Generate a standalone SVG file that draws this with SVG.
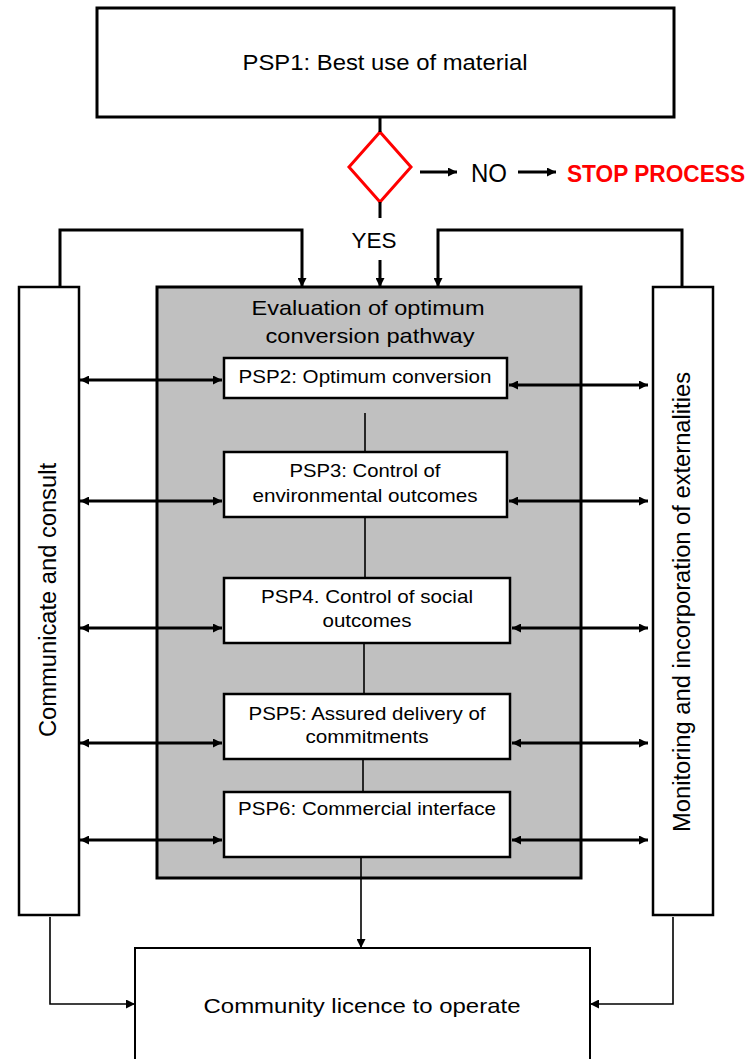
<svg xmlns="http://www.w3.org/2000/svg" width="755" height="1059" viewBox="0 0 755 1059">
<style>
text{font-family:"Liberation Sans",Arial,sans-serif;fill:#000}
.box{fill:#fff;stroke:#000;stroke-width:2.5}
.psp{font-size:19px}
.line{stroke:#000;stroke-width:3;fill:none}
.thin{stroke:#000;stroke-width:1.6;fill:none}
.side{font-size:23px}
</style>
<defs>
<marker id="ah" viewBox="0 0 10 10" refX="10" refY="5" markerWidth="9" markerHeight="9" markerUnits="userSpaceOnUse" orient="auto-start-reverse">
<path d="M0,0 L10,5 L0,10 z" fill="#000"/>
</marker>
</defs>
<rect width="755" height="1059" fill="#fff"/>

<g id="psp1">
<rect x="97" y="8" width="577" height="109" fill="#fff" stroke="#000" stroke-width="3"/>
<text x="385" y="70" font-size="22" text-anchor="middle" textLength="285" lengthAdjust="spacingAndGlyphs">PSP1: Best use of material</text>
</g>

<g id="decision">
<polygon points="380,132 411,167 380,202 349,167" fill="#fff" stroke="#ff0000" stroke-width="3"/>
</g>
<g id="no-label"><text x="489" y="182" font-size="25" text-anchor="middle" textLength="36" lengthAdjust="spacingAndGlyphs">NO</text></g>
<g id="stop"><text x="656" y="182" font-size="24" font-weight="bold" style="fill:#ff0000" text-anchor="middle" textLength="178" lengthAdjust="spacingAndGlyphs">STOP PROCESS</text></g>
<g id="yes-label"><text x="374" y="248" font-size="22" text-anchor="middle" textLength="45" lengthAdjust="spacingAndGlyphs">YES</text></g>

<g id="left-box">
<rect x="19" y="287" width="60" height="628" class="box"/>
<text class="side" transform="translate(56,600) rotate(-90)" text-anchor="middle" textLength="274" lengthAdjust="spacingAndGlyphs">Communicate and consult</text>
</g>
<g id="right-box">
<rect x="653" y="287" width="60" height="628" class="box"/>
<text class="side" transform="translate(690,602) rotate(-90)" text-anchor="middle" textLength="460" lengthAdjust="spacingAndGlyphs">Monitoring and incorporation of externalities</text>
</g>

<g id="evaluation">
<rect x="157" y="287" width="424" height="591" fill="#c0c0c0" stroke="#000" stroke-width="3"/>
<text x="368" y="315" font-size="21" text-anchor="middle" textLength="233" lengthAdjust="spacingAndGlyphs">Evaluation of optimum</text>
<text x="370" y="343" font-size="21" text-anchor="middle" textLength="209" lengthAdjust="spacingAndGlyphs">conversion pathway</text>
</g>

<g id="connectors">
<line x1="380" y1="117" x2="380" y2="132" class="line"/>
<line x1="380" y1="202" x2="380" y2="218" class="line"/>
<line x1="420" y1="172" x2="457" y2="172" class="line" marker-end="url(#ah)"/>
<line x1="518" y1="172" x2="556" y2="172" class="line" marker-end="url(#ah)"/>
<line x1="380" y1="260" x2="380" y2="287" class="line" marker-end="url(#ah)"/>
<polyline points="60,287 60,230 302,230 302,287" class="line" marker-end="url(#ah)"/>
<polyline points="682,287 682,230 438,230 438,287" class="line" marker-end="url(#ah)"/>
<line x1="365" y1="413" x2="365" y2="452" class="thin"/>
<line x1="365" y1="517" x2="365" y2="578" class="thin"/>
<line x1="364" y1="643" x2="364" y2="694" class="thin"/>
<line x1="363" y1="759" x2="363" y2="792" class="thin"/>
<line x1="361" y1="857" x2="361" y2="948" class="thin" marker-end="url(#ah)"/>
<polyline points="50,917 50,1004 135,1004" class="thin" marker-end="url(#ah)"/>
<polyline points="673,917 673,1004 590,1004" class="thin" marker-end="url(#ah)"/>
<line x1="80" y1="380" x2="222" y2="380" class="line" stroke-width="2.5" marker-start="url(#ah)" marker-end="url(#ah)"/>
<line x1="509" y1="385" x2="648" y2="385" class="line" marker-start="url(#ah)" marker-end="url(#ah)"/>
<line x1="80" y1="501" x2="222" y2="501" class="line" marker-start="url(#ah)" marker-end="url(#ah)"/>
<line x1="509" y1="501" x2="648" y2="501" class="line" marker-start="url(#ah)" marker-end="url(#ah)"/>
<line x1="80" y1="628" x2="222" y2="628" class="line" marker-start="url(#ah)" marker-end="url(#ah)"/>
<line x1="512" y1="628" x2="648" y2="628" class="line" marker-start="url(#ah)" marker-end="url(#ah)"/>
<line x1="80" y1="743" x2="222" y2="743" class="line" marker-start="url(#ah)" marker-end="url(#ah)"/>
<line x1="512" y1="743" x2="648" y2="743" class="line" marker-start="url(#ah)" marker-end="url(#ah)"/>
<line x1="80" y1="840" x2="222" y2="840" class="line" marker-start="url(#ah)" marker-end="url(#ah)"/>
<line x1="512" y1="840" x2="648" y2="840" class="line" marker-start="url(#ah)" marker-end="url(#ah)"/>
</g>

<g id="psp2">
<rect x="224" y="358" width="283" height="40" class="box"/>
<text class="psp" x="365" y="383" text-anchor="middle" textLength="253" lengthAdjust="spacingAndGlyphs">PSP2: Optimum conversion</text>
</g>
<g id="psp3">
<rect x="224" y="452" width="283" height="65" class="box"/>
<text class="psp" x="365" y="477" text-anchor="middle" textLength="151" lengthAdjust="spacingAndGlyphs">PSP3: Control of</text>
<text class="psp" x="365" y="502" text-anchor="middle" textLength="225" lengthAdjust="spacingAndGlyphs">environmental outcomes</text>
</g>
<g id="psp4">
<rect x="224" y="578" width="286" height="65" class="box"/>
<text class="psp" x="367" y="603" text-anchor="middle" textLength="212" lengthAdjust="spacingAndGlyphs">PSP4. Control of social</text>
<text class="psp" x="367" y="627" text-anchor="middle" textLength="89" lengthAdjust="spacingAndGlyphs">outcomes</text>
</g>
<g id="psp5">
<rect x="224" y="694" width="286" height="65" class="box"/>
<text class="psp" x="367" y="720" text-anchor="middle" textLength="237" lengthAdjust="spacingAndGlyphs">PSP5: Assured delivery of</text>
<text class="psp" x="367" y="743" text-anchor="middle" textLength="123" lengthAdjust="spacingAndGlyphs">commitments</text>
</g>
<g id="psp6">
<rect x="224" y="792" width="286" height="65" class="box"/>
<text class="psp" x="367" y="815" text-anchor="middle" textLength="258" lengthAdjust="spacingAndGlyphs">PSP6: Commercial interface</text>
</g>

<g id="community">
<rect x="135" y="948" width="455" height="130" fill="#fff" stroke="#000" stroke-width="2"/>
<text x="362" y="1013" font-size="21" text-anchor="middle" textLength="317" lengthAdjust="spacingAndGlyphs">Community licence to operate</text>
</g>
</svg>
